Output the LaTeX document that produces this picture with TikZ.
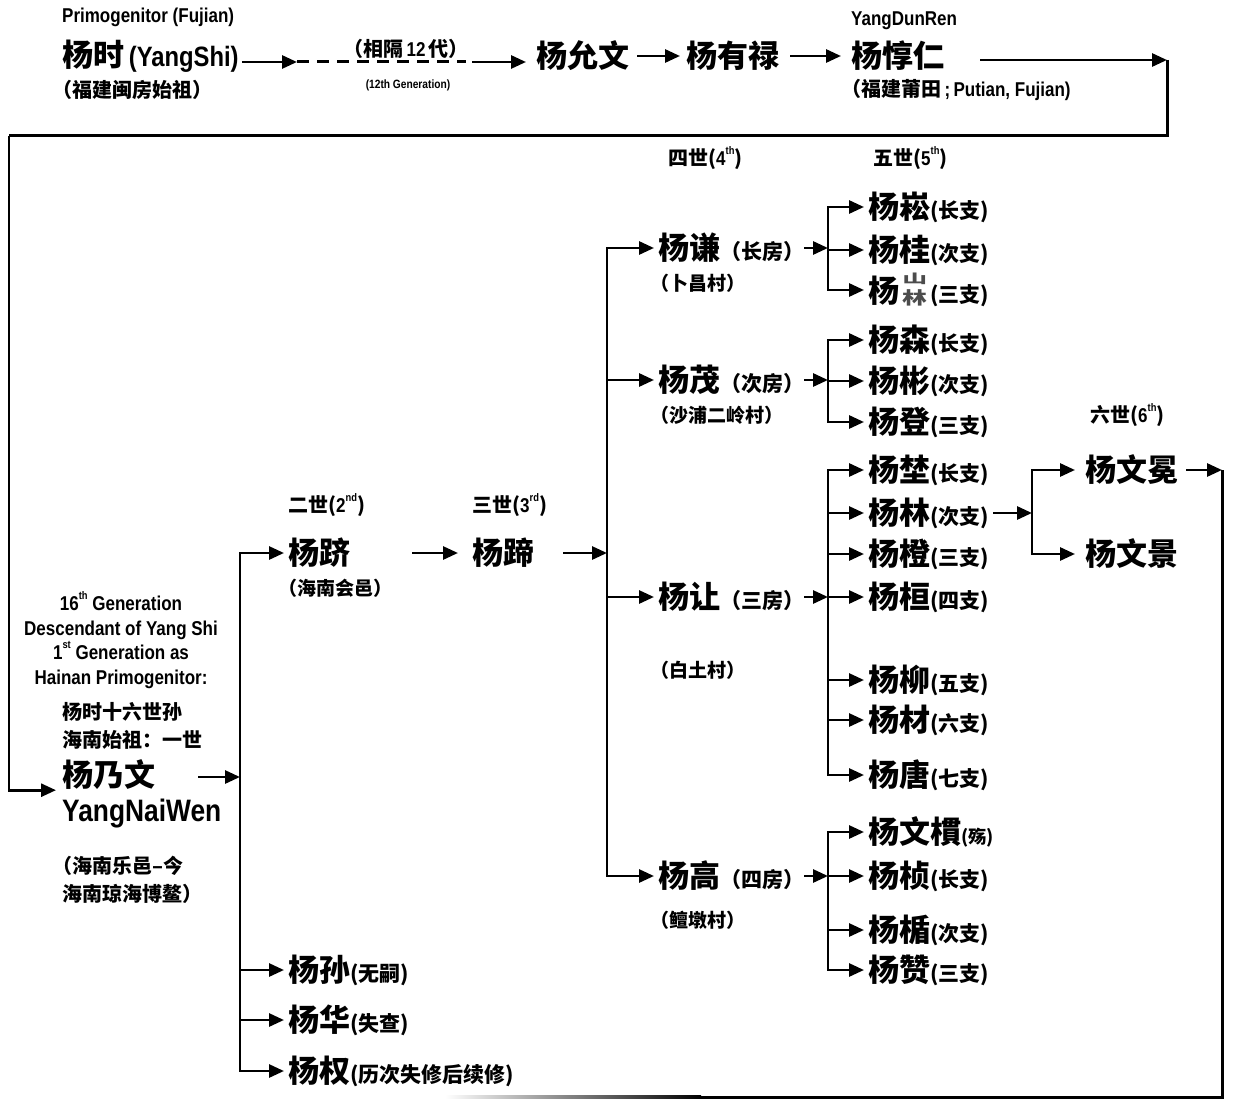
\documentclass[tikz,border=0pt]{standalone}
\usepackage{fontspec}
\usepackage{graphicx}
\setmainfont{Noto Sans CJK SC}
\newfontfamily\lat{Liberation Sans}[FakeStretch=0.85]
\usetikzlibrary{arrows.meta,calc}
\newcommand\FS[1]{\fontsize{#1}{#1}\selectfont}
\newcommand\LA[1]{{\lat #1}}
\newcommand\supx[1]{\raisebox{0.55em}{\FS{11}\lat #1}}
\newcommand\hang{\hspace*{-0.5em}}
\newcommand\shanlin{\makebox[1em][c]{\color{black!70}\rlap{\raisebox{0.6em}{\scalebox{0.8}[0.4]{山}}}\raisebox{-0.06em}{\scalebox{0.8}[0.56]{林}}}}
\begin{document}
\begin{tikzpicture}[x=1pt,y=-1pt,
 every node/.style={inner sep=0pt, anchor=west, font=\bfseries},
 big/.style={font=\bfseries\FS{31}},
 note/.style={font=\bfseries\FS{19}},
 mnote/.style={font=\bfseries\fontsize{20}{27.5}\selectfont, align=left},
 lab/.style={font=\bfseries\FS{20}\lat},
 gen/.style={font=\bfseries\FS{20}},
 ln/.style={line width=3pt},
 arr/.style={line width=2.8pt, -{Triangle[length=15pt,width=13pt]}},
 arrS/.style={arr, shorten >=4pt},
]
\useasboundingbox (0,0) rectangle (1244,1102);

% ---------- top row ----------
\node[lab] (prim) at (62,17) {Primogenitor (Fujian)};
\node[big] (shi) at (62,56) {杨时{\FS{28}\LA{\,(YangShi)}}};
\node[font=\bfseries\FS{20}] (shin) at (62,90) {\hang（福建闽房始祖）};
\coordinate (d1) at (297,62);
\coordinate (d2) at (466,62);
\draw[arr, shorten <=3pt] (shi.east |- d1) -- (d1);
\draw[ln, dash pattern=on 12pt off 8pt] (d1) -- (d2);
\node[gen, anchor=center] (gap) at (406,49) {（相隔\,\LA{12}\,代）};
\node[anchor=center, font=\bfseries\FS{12}\lat] (gapen) at (408,85) {(12th Generation)};
\node[big] (yunwen) at (536,56) {杨允文};
\draw[arr, shorten <=6pt, shorten >=10pt] (d2) -- (yunwen.west |- d2);
\node[big] (youlu) at (686,56) {杨有禄};
\draw[arr, shorten <=8pt, shorten >=6pt] (yunwen.east) -- (youlu.west);
\node[lab] (dunrenen) at (851,21) {YangDunRen};
\node[big] (dunren) at (851,56) {杨惇仁};
\node[note, font=\bfseries\FS{20}] (dunrenn) at (851,90) {\hang（福建莆田\,\LA{;\,Putian, Fujian)}};
\draw[arr, shorten <=11pt, shorten >=10pt] (youlu.east) -- (dunren.west);
\coordinate (tr) at (1167,60);
\coordinate (cl) at (9,136);
\draw[arr, shorten <=36pt] (dunren.east |- tr) -- (tr);
\draw[ln] (tr) |- (cl);

% ---------- Hainan primogenitor ----------
\node[lab, align=center, anchor=center, font=\bfseries\fontsize{20}{24.6}\selectfont\lat] (desc) at (121,640)
 {16\supx{th} Generation\\Descendant of Yang Shi\\1\supx{st} Generation as\\Hainan Primogenitor:};
\node[mnote] (naiwenc) at (62,726) {杨时十六世孙\\海南始祖：一世};
\node[big] (naiwen) at (62,775) {杨乃文};
\node[font=\bfseries\FS{31}\lat] (naiwenen) at (62,814) {YangNaiWen};
\node[mnote] (naiwenl) at (62,880) {\hang（海南乐邑–今\\海南琼海博鳌）};
\draw[arr, shorten >=6pt] (cl) |- (naiwen.south west);
\coordinate (j1) at (240,777);
\draw[arr, shorten <=43pt] (naiwen.east |- j1) -- (j1);

% ---------- 2nd generation ----------
\node[gen] (g2) at (288,505) {二世(\LA{2}\supx{nd})};
\node[big] (ji) at (288,553) {杨跻};
\node[note, font=\bfseries\FS{19}] (jin) at (288,588) {\hang（海南会邑）};
\node[big] (sun) at (288,970) {杨孙{\FS{21}(无嗣)}};
\node[big] (hua) at (288,1020) {杨华{\FS{21}(失查)}};
\node[big] (quan) at (288,1071) {杨权{\FS{21}(历次失修后续修)}};
\draw[arrS] (j1) |- (ji.west);
\draw[arrS] (j1) |- (sun.west);
\draw[arrS] (j1) |- (hua.west);
\draw[arrS] (j1) |- (quan.west);

% ---------- 3rd generation ----------
\node[gen] (g3) at (472,505) {三世(\LA{3}\supx{rd})};
\node[big] (ti) at (472,553) {杨蹄};
\draw[arr, shorten <=62pt, shorten >=14pt] (ji.east) -- (ti.west);
\coordinate (j3) at (607,553);
\draw[arr, shorten <=29pt] (ti.east) -- (j3);

% ---------- 4th generation ----------
\node[gen] (g4) at (668,158) {四世(\LA{4}\supx{th})};
\node[gen] (g5) at (873,158) {五世(\LA{5}\supx{th})};
\node[big] (qian) at (658,248) {杨谦{\FS{21}（长房）}};
\node[note] (qiann) at (660,283) {\hang（卜昌村）};
\node[big] (mao) at (658,380) {杨茂{\FS{21}（次房）}};
\node[note] (maon) at (660,415) {\hang（沙浦二岭村）};
\node[big] (rang) at (658,597) {杨让{\FS{21}（三房）}};
\node[note] (rangn) at (660,670) {\hang（白土村）};
\node[big] (gao) at (658,876) {杨高{\FS{21}（四房）}};
\node[note] (gaon) at (660,920) {\hang（鳣墩村）};
\draw[arrS] (j3) |- (qian.west);
\draw[arrS] (j3) |- (mao.west);
\draw[arrS] (j3) |- (rang.west);
\draw[arrS] (j3) |- (gao.west);

% ---------- 5th generation ----------
\coordinate (k1) at (828,248);
\coordinate (k2) at (828,380);
\coordinate (k3) at (828,597);
\coordinate (k4) at (828,876);
\draw[arr] (qian.east) -- (k1);
\draw[arr] (mao.east) -- (k2);
\draw[arr] (rang.east) -- (k3);
\draw[arr] (gao.east) -- (k4);

\node[big] (a1) at (868,207) {杨崧{\FS{21}(长支)}};
\node[big] (a2) at (868,250) {杨桂{\FS{21}(次支)}};
\node[big] (a3) at (868,290) {杨\shanlin{\FS{21}(三支)}};
\node[big] (b1) at (868,340) {杨森{\FS{21}(长支)}};
\node[big] (b2) at (868,381) {杨彬{\FS{21}(次支)}};
\node[big] (b3) at (868,422) {杨登{\FS{21}(三支)}};
\node[big] (c1) at (868,470) {杨埜{\FS{21}(长支)}};
\node[big] (c2) at (868,513) {杨林{\FS{21}(次支)}};
\node[big] (c3) at (868,554) {杨橙{\FS{21}(三支)}};
\node[big] (c4) at (868,597) {杨桓{\FS{21}(四支)}};
\node[big] (c5) at (868,680) {杨柳{\FS{21}(五支)}};
\node[big] (c6) at (868,720) {杨材{\FS{21}(六支)}};
\node[big] (c7) at (868,775) {杨唐{\FS{21}(七支)}};
\node[big] (e1) at (868,832) {杨文樌{\FS{18}(殇)}};
\node[big] (e2) at (868,876) {杨桢{\FS{21}(长支)}};
\node[big] (e3) at (868,930) {杨楯{\FS{21}(次支)}};
\node[big] (e4) at (868,970) {杨赞{\FS{21}(三支)}};
\foreach \c in {a1,a2,a3} \draw[arrS] (k1) |- (\c.west);
\foreach \c in {b1,b2,b3} \draw[arrS] (k2) |- (\c.west);
\foreach \c in {c1,c2,c3,c4,c5,c6,c7} \draw[arrS] (k3) |- (\c.west);
\foreach \c in {e1,e2,e3,e4} \draw[arrS] (k4) |- (\c.west);

% ---------- 6th generation ----------
\node[gen] (g6) at (1090,415) {六世(\LA{6}\supx{th})};
\node[big] (wm) at (1085,470) {杨文冕};
\node[big] (wj) at (1085,554) {杨文景};
\coordinate (j4) at (1032,513);
\draw[arr, shorten <=4pt] (c2.east) -- (j4);
\draw[arr, shorten >=10pt] (j4) |- (wm.west);
\draw[arr, shorten >=10pt] (j4) |- (wj.west);
\coordinate (rr) at (1222,470);
\coordinate (bm) at (700,1097);
\draw[arr, shorten <=8pt] (wm.east) -- (rr);
\draw[ln] (rr) |- (bm);
\shade[left color=white, right color=black] (445,1095.5) rectangle (701,1098.5);
\end{tikzpicture}
\end{document}
